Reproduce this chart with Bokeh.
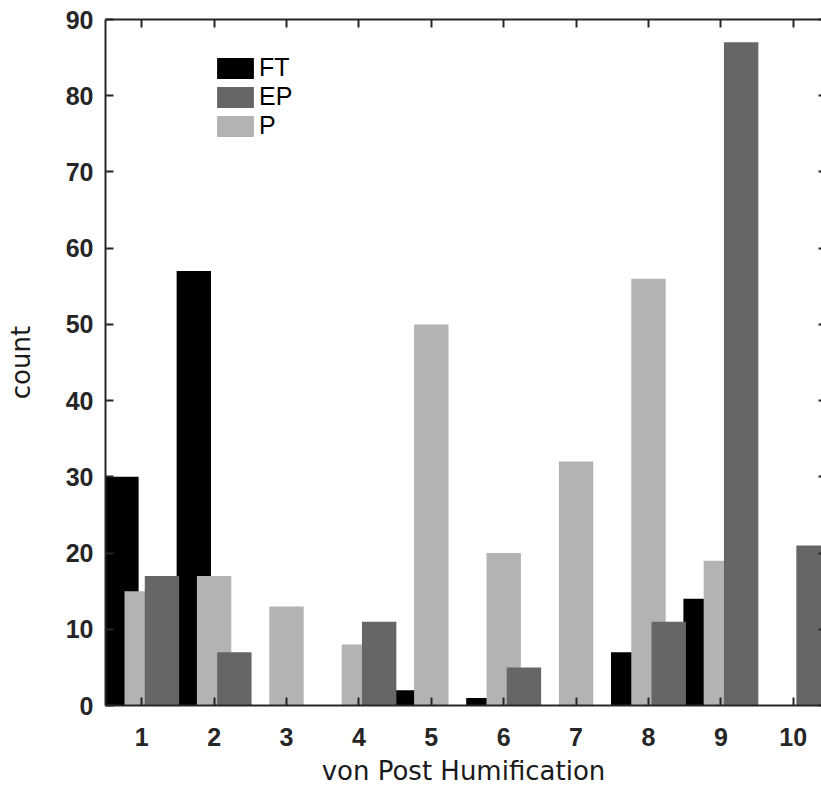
from bokeh.plotting import figure
from bokeh.models import (ColumnDataSource, Range1d, LinearAxis, FixedTicker,
                          Legend, LegendItem, CustomLabelingPolicy)
from bokeh.transform import dodge
from bokeh.embed import file_html
from bokeh.resources import INLINE

# ---- data ----
humification = [1, 2, 3, 4, 5, 6, 7, 8, 9, 10]
ft_counts = [30, 57, 0, 0, 2, 1, 0, 7, 14, 0]
ep_counts = [17, 7, 0, 11, 0, 5, 0, 11, 87, 21]
p_counts = [15, 17, 13, 8, 50, 20, 32, 56, 19, 0]
y_ticks = [0, 10, 20, 30, 40, 50, 60, 70, 80, 90]

src = ColumnDataSource(dict(x=humification, ft=ft_counts, ep=ep_counts, p=p_counts))

AX = "#262626"
p = figure(width=821, height=794, output_backend="svg", toolbar_location=None,
           x_range=Range1d(0.5, 10.39), y_range=Range1d(0, 90),
           min_border_left=105, min_border_right=0, min_border_top=19,
           min_border_bottom=89, x_axis_location=None, y_axis_location=None)
p.outline_line_color = None
p.xgrid.visible = False
p.ygrid.visible = False
p.background_fill_color = "white"

w = 0.475
r_ft = p.vbar(x=dodge("x", -0.28, range=p.x_range), top="ft", width=w, bottom=0,
              source=src, fill_color="#000000", line_color=None)
r_p = p.vbar(x=dodge("x", 0.0, range=p.x_range), top="p", width=w, bottom=0,
             source=src, fill_color="#b3b3b3", line_color=None)
r_ep = p.vbar(x=dodge("x", 0.28, range=p.x_range), top="ep", width=w, bottom=0,
              source=src, fill_color="#666666", line_color=None)

def style(ax, labels=True):
    ax.axis_line_color = AX
    ax.axis_line_width = 2
    ax.major_tick_line_color = AX
    ax.major_tick_line_width = 2
    ax.major_tick_in = 8
    ax.major_tick_out = 0
    ax.minor_tick_line_color = None
    if labels:
        ax.major_label_text_font = "Liberation Sans"
        ax.major_label_text_font_style = "bold"
        ax.major_label_text_font_size = "25px"
        ax.major_label_text_color = AX
        ax.axis_label_text_font = "DejaVu Sans"
        ax.axis_label_text_font_style = "normal"
        ax.axis_label_text_font_size = "26px"
        ax.axis_label_text_color = "#1a1a1a"
    else:
        ax.major_label_policy = CustomLabelingPolicy(code="return []")
        ax.major_label_text_font_size = "0px"
        ax.major_label_standoff = 0

xb = LinearAxis(ticker=FixedTicker(ticks=humification), axis_label="von Post Humification")
style(xb)
xb.major_label_standoff = 22
xb.axis_label_standoff = 7
p.add_layout(xb, "below")

xt = LinearAxis(ticker=FixedTicker(ticks=humification))
style(xt, labels=False)
p.add_layout(xt, "above")

yl = LinearAxis(ticker=FixedTicker(ticks=y_ticks), axis_label="count")
style(yl)
yl.major_label_standoff = 12
yl.axis_label_standoff = 27
p.add_layout(yl, "left")

yr = LinearAxis(ticker=FixedTicker(ticks=y_ticks))
style(yr, labels=False)
yr.axis_line_alpha = 0
yr.major_tick_in = 3
p.add_layout(yr, "right")

legend = Legend(items=[LegendItem(label="FT", renderers=[r_ft]),
                       LegendItem(label="EP", renderers=[r_ep]),
                       LegendItem(label="P", renderers=[r_p])],
                location=(107, 565))
legend.glyph_width = 46
legend.glyph_height = 26
legend.spacing = 0
legend.padding = 0
legend.margin = 0
legend.label_standoff = 1
legend.label_text_font = "Liberation Sans"
legend.label_text_font_size = "25px"
legend.label_text_color = "#000000"
legend.background_fill_alpha = 0
legend.border_line_alpha = 0
p.add_layout(legend, "center")

open("out.html", "w").write(file_html(p, INLINE))
